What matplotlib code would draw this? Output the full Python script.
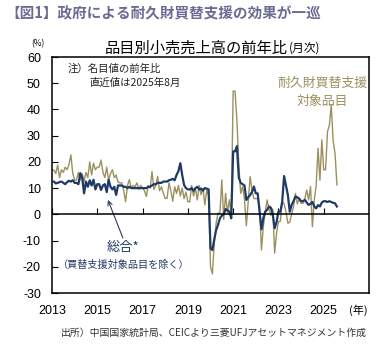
import numpy as np
import matplotlib
matplotlib.use("Agg")
import matplotlib.pyplot as plt

plt.rcParams['font.family'] = ['Liberation Sans', 'Noto Sans CJK JP']
plt.rcParams['axes.unicode_minus'] = False
JP = ['Noto Sans CJK JP', 'Liberation Sans']

# Monthly YoY growth (%), Jan 2013 - Aug 2025
overall_ex_subsidy = [
    12.5, 12.5, 11.8, 12.0, 12.3, 12.5, 12.0, 11.5, 12.3, 12.8, 12.5, 13.0,   # 2013
    12.0, 12.0, 11.5, 15.7, 14.0, 8.0, 12.5, 10.5, 13.0, 11.0, 13.2, 9.5,     # 2014
    11.5, 11.5, 9.3, 11.0, 11.5, 8.5, 13.2, 10.5, 9.5, 10.5, 7.4, 11.0,       # 2015
    11.0, 11.0, 10.5, 10.5, 10.0, 10.5, 10.0, 10.0, 10.0, 10.0, 10.0, 10.0,   # 2016
    10.0, 10.0, 10.0, 10.5, 10.5, 11.0, 11.5, 11.5, 12.0, 12.0, 12.0, 12.5,   # 2017
    12.5, 12.5, 13.0, 13.2, 13.5, 13.0, 15.0, 16.5, 19.5, 15.0, 11.2, 10.0,   # 2018
    9.5, 9.5, 10.0, 9.0, 10.0, 10.5, 9.5, 9.8, 9.0, 10.0, 9.8, 9.5,           # 2019
    -13.0, -13.6, -9.5, -6.0, -4.0, -1.5, -0.5, 0.0, 2.0, 1.5, 1.0, -1.5,     # 2020
    24.0, 24.0, 26.0, 14.0, 12.0, 11.5, 11.0, 5.5, 6.5, 7.4, 8.5, 10.6,       # 2021
    8.0, 8.0, 1.0, -5.7, -1.5, 1.0, 1.7, 3.0, 2.5, 0.0, -5.3, -3.0,           # 2022
    1.0, 1.0, 4.8, 14.6, 11.0, 7.4, 1.0, 3.6, 5.0, 6.8, 6.5, 6.0,             # 2023
    5.0, 5.0, 5.5, 4.5, 3.6, 4.0, 4.7, 3.0, 2.3, 3.5, 3.0, 4.5,               # 2024
    5.0, 5.0, 4.7, 5.0, 4.7, 4.4, 4.2, 3.0,                                   # 2025
]
subsidy_items = [
    16.9, 16.9, 15.6, 18.8, 14.0, 17.0, 16.0, 18.0, 17.0, 19.0, 22.7, 15.6,   # 2013
    13.1, 13.1, 16.0, 13.0, 15.5, 12.5, 16.0, 14.0, 20.0, 15.0, 19.5, 17.0,   # 2014
    18.0, 18.0, 20.7, 16.0, 14.0, 18.0, 13.0, 15.5, 17.0, 14.0, 15.0, 12.3,   # 2015
    12.0, 12.0, 9.0, 4.8, 11.0, 13.2, 10.0, 11.0, 10.5, 12.0, 9.5, 11.0,      # 2016
    10.0, 9.0, 6.8, 11.0, 10.0, 16.3, 9.5, 11.0, 14.4, 9.0, 10.5, 8.0,        # 2017
    6.1, 6.1, 12.0, 9.0, 5.0, 10.5, 8.0, 11.0, 7.0, 10.0, 6.0, 8.5,           # 2018
    4.8, 4.8, 11.0, 7.0, 10.0, 5.5, 11.0, 7.5, 10.0, 3.6, 9.3, 7.0,           # 2019
    -20.0, -22.7, -11.0, -3.4, 0.5, 0.4, 13.1, -2.0, 8.0, 0.5, 5.5, -0.5,     # 2020
    47.0, 47.0, 36.0, 19.0, 8.0, 10.5, 6.0, -4.4, 5.0, 14.4, 9.0, 6.0,        # 2021
    6.0, 6.0, 3.0, -13.6, -4.7, 1.0, 5.5, 2.0, -0.4, 2.0, -14.8, -7.2,        # 2022
    -2.7, -2.7, 4.8, 4.0, 1.0, -3.4, -3.0, 0.0, 3.0, 8.0, 4.0, 6.0,           # 2023
    4.2, 4.2, 6.0, 9.3, 5.5, 10.6, -4.7, 5.5, 11.0, 25.2, 13.0, 28.4,         # 2024
    17.0, 17.0, 31.5, 34.0, 41.7, 28.0, 23.3, 11.2,                           # 2025
]
start_year = 2013
year_ticks = [2013, 2015, 2017, 2019, 2021, 2023, 2025]
y_ticks = [-30, -20, -10, 0, 10, 20, 30, 40, 50, 60]

NAVY = '#1f3a64'
KHAKI = '#9c9060'

W, H = 383, 347
fig = plt.figure(figsize=(W / 100, H / 100), dpi=100)
ax = fig.add_axes([52 / W, 1 - 293 / H, (369 - 52) / W, (293 - 57) / H])

t = start_year + np.arange(len(overall_ex_subsidy)) / 12.0
ax.plot(t, subsidy_items, color=KHAKI, lw=1.0, zorder=2)
ax.plot(t, overall_ex_subsidy, color=NAVY, lw=1.6, zorder=3)
ax.axhline(0, color='black', lw=1.1, zorder=4)

ax.set_xlim(2013, 2027)
ax.set_ylim(-30, 60)
ax.set_yticks(y_ticks)
ax.set_yticklabels([str(v) for v in y_ticks])
ax.tick_params(axis='y', direction='in', length=4, width=0.8, pad=8, labelsize=9)
ax.set_xticks(year_ticks)
ax.set_xticklabels([str(v) for v in year_ticks])
ax.tick_params(axis='x', length=0, pad=9, labelsize=9)
for s in ax.spines.values():
    s.set_linewidth(1.1)

# year tick marks sitting on the zero line
sec = ax.secondary_xaxis(0, transform=ax.transData)
sec.set_xticks(year_ticks)
sec.tick_params(axis='x', direction='in', length=4, width=0.8, labelbottom=False)
sec.spines['bottom'].set_visible(False)

ax.text(0.965, -0.075, '(年)', transform=ax.transAxes, ha='center', va='center',
        fontsize=8, family=JP)

# annotations
ax.text(2013.7, 55.5, '注）名目値の前年比', fontsize=7.5, family=JP, color='#222222',
        va='center', ha='left')
ax.text(2014.65, 50.2, '直近値は2025年8月', fontsize=7.5, family=JP, color='#222222',
        va='center', ha='left')
ax.text(2023.0 + (300 - 256.3) / 22.67, 50.0, '耐久財買替支援', fontsize=9.3, family=JP,
        color=KHAKI, ha='center', va='center')
ax.text(2023.0 + (300 - 256.3) / 22.67, 43.0, '対象品目', fontsize=9.3, family=JP,
        color=KHAKI, ha='center', va='center')
ax.text(2016.15, -12.8, '総合*', fontsize=9.5, family=JP, color=NAVY,
        ha='center', va='center')
ax.text(2016.15, -19.3, '（買替支援対象品目を除く）', fontsize=7.3, family=JP, color=NAVY,
        ha='center', va='center')
ax.annotate('', xy=(2015.47, 5.5), xytext=(2016.13, -9.0),
            arrowprops=dict(arrowstyle='->', color='#2b3a55', lw=0.8,
                            mutation_scale=8, shrinkA=0, shrinkB=0))

# figure texts
fig.text(5 / W, 1 - 13 / H, '【図1】政府による耐久財買替支援の効果が一巡', fontsize=10.5,
         weight='bold', color='#6b6b95', family=JP, ha='left', va='center')
fig.text(288 / W, 1 - 48 / H, '品目別小売売上高の前年比', fontsize=11, family=JP,
         ha='right', va='center')
fig.text(289 / W, 1 - 48 / H, '(月次)', fontsize=8.5, family=JP, ha='left', va='center')
fig.text(38 / W, 1 - 44 / H, '(%)', fontsize=6, family=JP, ha='center', va='center')
fig.text(367 / W, 1 - 333 / H, '出所）中国国家統計局、CEICより三菱UFJアセットマネジメント作成',
         fontsize=7.1, family=JP, color='#333333', ha='right', va='center')

fig.savefig('out.png', dpi=100)
